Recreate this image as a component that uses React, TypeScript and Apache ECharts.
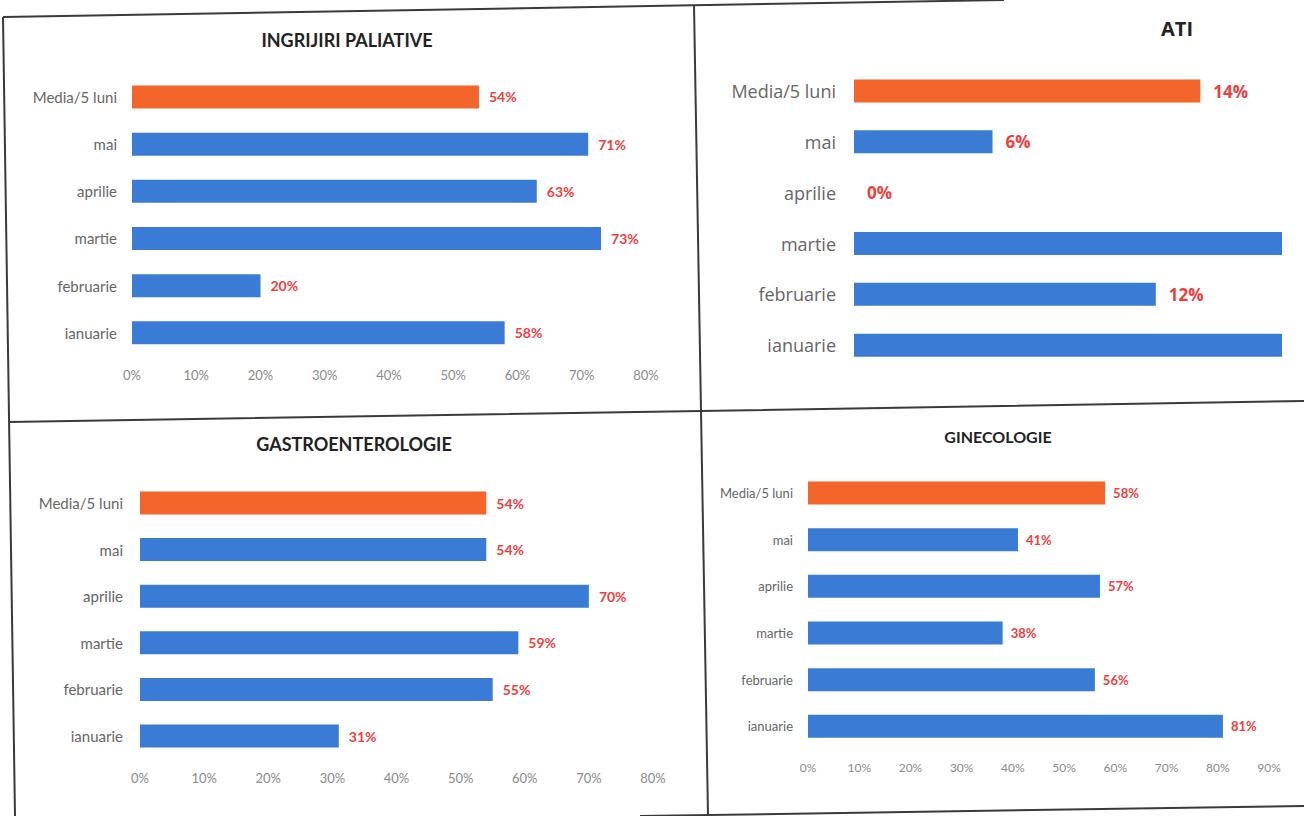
import React, { useEffect, useRef } from "react";
import * as echarts from "echarts";

const categories = ["Media/5 luni", "mai", "aprilie", "martie", "februarie", "ianuarie"];
const paliativeValues = [54, 71, 63, 73, 20, 58];
const atiValues = [14, 5.6, 0, 25, 12.2, 27];
const atiHiddenLabels = ["martie", "ianuarie"];
const gastroValues = [54, 54, 70, 59, 55, 31];
const gineValues = [58, 41, 57, 38, 56, 81];
const titles = ["INGRIJIRI PALIATIVE", "ATI", "GASTROENTEROLOGIE", "GINECOLOGIE"];

const BLUE = "#3a7cd5";
const ORANGE = "#f4652b";
const RED = "#f03e3e";
const CAT = "#666666";
const AXIS = "#8a8a8a";

const colorFn = (p: any) => (p.dataIndex === 0 ? ORANGE : BLUE);
const pct = (p: any) => Math.round(p.value) + "%";

function xAxisCfg(grid: number, max: number, fontSize: number, show = true) {
  return {
    type: "value",
    gridIndex: grid,
    min: 0,
    max,
    interval: 10,
    splitLine: { show: false },
    axisLine: { show: false },
    axisTick: { show: false },
    axisLabel: {
      show,
      formatter: "{value}%",
      color: AXIS,
      fontFamily: "Lato",
      fontSize,
      margin: 12,
    },
  };
}

function yAxisCfg(grid: number, fontSize: number, margin: number, family: string) {
  return {
    type: "category",
    gridIndex: grid,
    data: categories,
    inverse: true,
    axisLine: { show: false },
    axisTick: { show: false },
    axisLabel: { color: CAT, fontSize, margin, fontFamily: family },
  };
}

function seriesCfg(idx: number, data: any[], fontSize: number, family: string, distance: number) {
  return {
    type: "bar",
    xAxisIndex: idx,
    yAxisIndex: idx,
    data,
    barWidth: 23,
    itemStyle: { color: colorFn },
    label: {
      show: true,
      position: "right",
      distance,
      formatter: pct,
      color: RED,
      fontWeight: "bold",
      fontSize,
      fontFamily: family,
    },
  };
}

export default function App() {
  const ref = useRef<HTMLDivElement>(null);
  useEffect(() => {
    if (!ref.current) return;
    const chart = echarts.init(ref.current, null, { renderer: "svg" });
    const atiData = atiValues.map((v, i) => ({
      value: v,
      label: { show: !atiHiddenLabels.includes(categories[i]) },
    }));
    const lineStyle = { stroke: "#3a3a3a", lineWidth: 2 };
    const titleStyle = (text: string, x: number, y: number, size: number, family: string) => ({
      type: "text",
      x,
      y,
      style: {
        text,
        fill: "#222",
        font: `bold ${size}px ${family}`,
        textAlign: "center",
        textVerticalAlign: "middle",
      },
    });
    chart.setOption({
      animation: false,
      backgroundColor: "#ffffff",
      grid: [
        { left: 132, top: 73.4, width: 514, height: 283 },
        { left: 854, top: 65.6, width: 428, height: 305 },
        { left: 140, top: 479.7, width: 513, height: 279.6 },
        { left: 808, top: 469.7, width: 461, height: 280 },
      ],
      xAxis: [
        xAxisCfg(0, 80, 13),
        xAxisCfg(1, 17.3, 13, false),
        xAxisCfg(2, 80, 13),
        xAxisCfg(3, 90, 12),
      ],
      yAxis: [
        yAxisCfg(0, 15, 15, "Lato"),
        yAxisCfg(1, 18, 18, "Open Sans"),
        yAxisCfg(2, 15, 17, "Lato"),
        yAxisCfg(3, 13, 15, "Lato"),
      ],
      series: [
        seriesCfg(0, paliativeValues, 14, "Lato", 10),
        seriesCfg(1, atiData, 17, "Open Sans", 13),
        seriesCfg(2, gastroValues, 14, "Lato", 10),
        seriesCfg(3, gineValues, 13, "Lato", 8),
      ],
      graphic: [
        titleStyle(titles[0], 347, 40, 18, "Lato"),
        titleStyle(titles[1], 1177, 28, 20, "Open Sans"),
        titleStyle(titles[2], 354, 444, 18, "Lato"),
        titleStyle(titles[3], 998, 436, 16, "Lato"),
        { type: "line", shape: { x1: 3, y1: 17, x2: 1004, y2: 0 }, style: lineStyle },
        { type: "line", shape: { x1: 3, y1: 17, x2: 15, y2: 816 }, style: lineStyle },
        { type: "polyline", shape: { points: [[9, 422], [701, 411], [1304, 401]] }, style: { ...lineStyle, fill: "none" } },
        { type: "line", shape: { x1: 694, y1: 5, x2: 708, y2: 816 }, style: lineStyle },
        { type: "line", shape: { x1: 640, y1: 816, x2: 1304, y2: 806 }, style: lineStyle },
      ],
    });
    return () => chart.dispose();
  }, []);
  return (
    <div
      ref={ref}
      style={{ position: "fixed", left: 0, top: 0, width: 1304, height: 816, background: "#fff" }}
    />
  );
}
